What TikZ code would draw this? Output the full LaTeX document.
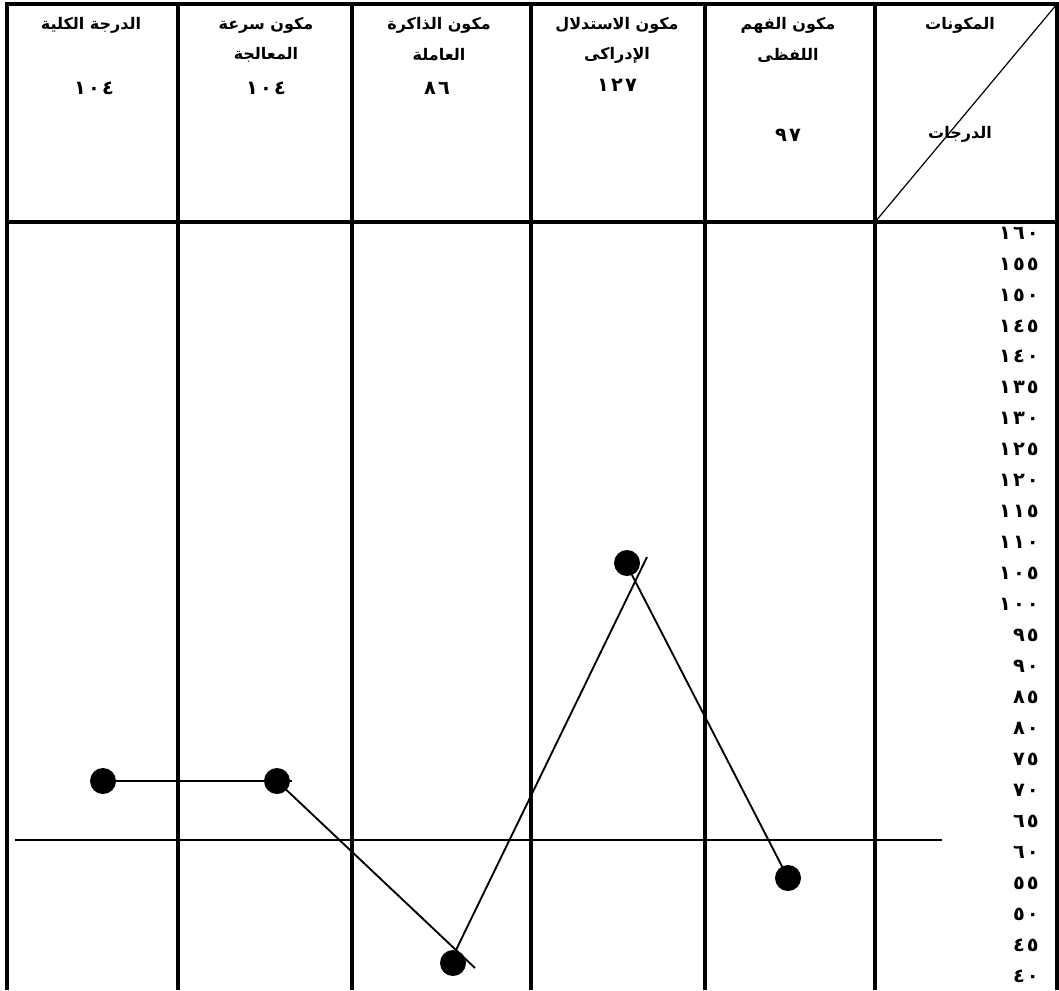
\documentclass[tikz,border=0pt]{standalone}
\usepackage{fontspec}
\newfontfamily\arabicfont[Script=Arabic]{DejaVu Sans}
\TeXXeTstate=1
% spread the digits of a number
\def\spd#1{\spdaux#1\relax}
\def\spdaux#1#2{#1\ifx\relax#2\else\kern1.6pt\expandafter\spdaux\expandafter#2\fi}
\begin{document}
\begin{tikzpicture}[x=0.75pt,y=-0.75pt,
  gridline/.style={line width=3pt},
  dataline/.style={line width=1.4pt},
  hdr/.style={font=\arabicfont\bfseries\fontsize{12}{14}\selectfont, inner sep=0pt},
  numlbl/.style={font=\arabicfont\bfseries\fontsize{14.5}{16}\selectfont, inner sep=0pt},
  ticklbl/.style={numlbl, anchor=east},
  dot/.style={circle, fill=black, minimum size=19.5pt, inner sep=0pt}]
\useasboundingbox (0,0) rectangle (1059,990);
\fill[white] (0,0) rectangle (1059,990);
% frame and grid
\draw[gridline, line join=miter] (7,990) -- (7,4) -- (1057,4) -- (1057,990);
\foreach \x in {178,352,531,705,875} \draw[gridline] (\x,4) -- (\x,990);
\draw[gridline] (7,222) -- (1057,222);
\draw[line width=0.9pt] (875,222) -- (1057,4);
% headers
\node[hdr] (h1) at (91,25) {\beginR الدرجة الكلية\endR};
\node[numlbl] (n1) at (94,88) {\spd{١٠٤}};
\node[hdr] (h2a) at (266,25) {\beginR مكون سرعة\endR};
\node[hdr] (h2b) at (266,55) {\beginR المعالجة\endR};
\node[numlbl] (n2) at (266,88) {\spd{١٠٤}};
\node[hdr] (h3a) at (439,25) {\beginR مكون الذاكرة\endR};
\node[hdr] (h3b) at (439,55) {\beginR العاملة\endR};
\node[numlbl] (n3) at (437,88) {\spd{٨٦}};
\node[hdr] (h4a) at (617,25) {\beginR مكون الاستدلال\endR};
\node[hdr] (h4b) at (617,55) {\beginR الإدراكى\endR};
\node[numlbl] (n4) at (617,85) {\spd{١٢٧}};
\node[hdr] (h5a) at (788,25) {\beginR مكون الفهم\endR};
\node[hdr] (h5b) at (788,55) {\beginR اللفظى\endR};
\node[numlbl] (n5) at (788,135) {\spd{٩٧}};
\node[hdr] (h6a) at (960,25) {\beginR المكونات\endR};
\node[hdr] (h6b) at (960,134) {\beginR الدرجات\endR};
% scale labels
\foreach \v [count=\i from 0] in {١٦٠,١٥٥,١٥٠,١٤٥,١٤٠,١٣٥,١٣٠,١٢٥,١٢٠,١١٥,١١٠,١٠٥,١٠٠,٩٥,٩٠,٨٥,٨٠,٧٥,٧٠,٦٥,٦٠,٥٥,٥٠,٤٥,٤٠}
  \node[ticklbl] (t\i) at (1039,233+30.96*\i) {\expandafter\spd\expandafter{\v}};
% reference line
\coordinate (r1) at (15,840);
\coordinate (r2) at (942,840);
\draw[dataline] (r1) -- (r2);
% data points
\node[dot] (d1) at (103,781) {};
\node[dot] (d2) at (277,781) {};
\node[dot] (d3) at (453,963) {};
\node[dot] (d4) at (627,563) {};
\node[dot] (d5) at (788,878) {};
\coordinate (e1) at (292,781);
\coordinate (e2) at (475,968);
\coordinate (s3) at (456,950);
\coordinate (e3) at (647,557);
\coordinate (s4) at (632,575);
\draw[dataline] (d1.center) -- (e1);
\draw[dataline] (d2.center) -- (e2);
\draw[dataline] (s3) -- (e3);
\draw[dataline] (s4) -- (d5.center);
\end{tikzpicture}
\end{document}
